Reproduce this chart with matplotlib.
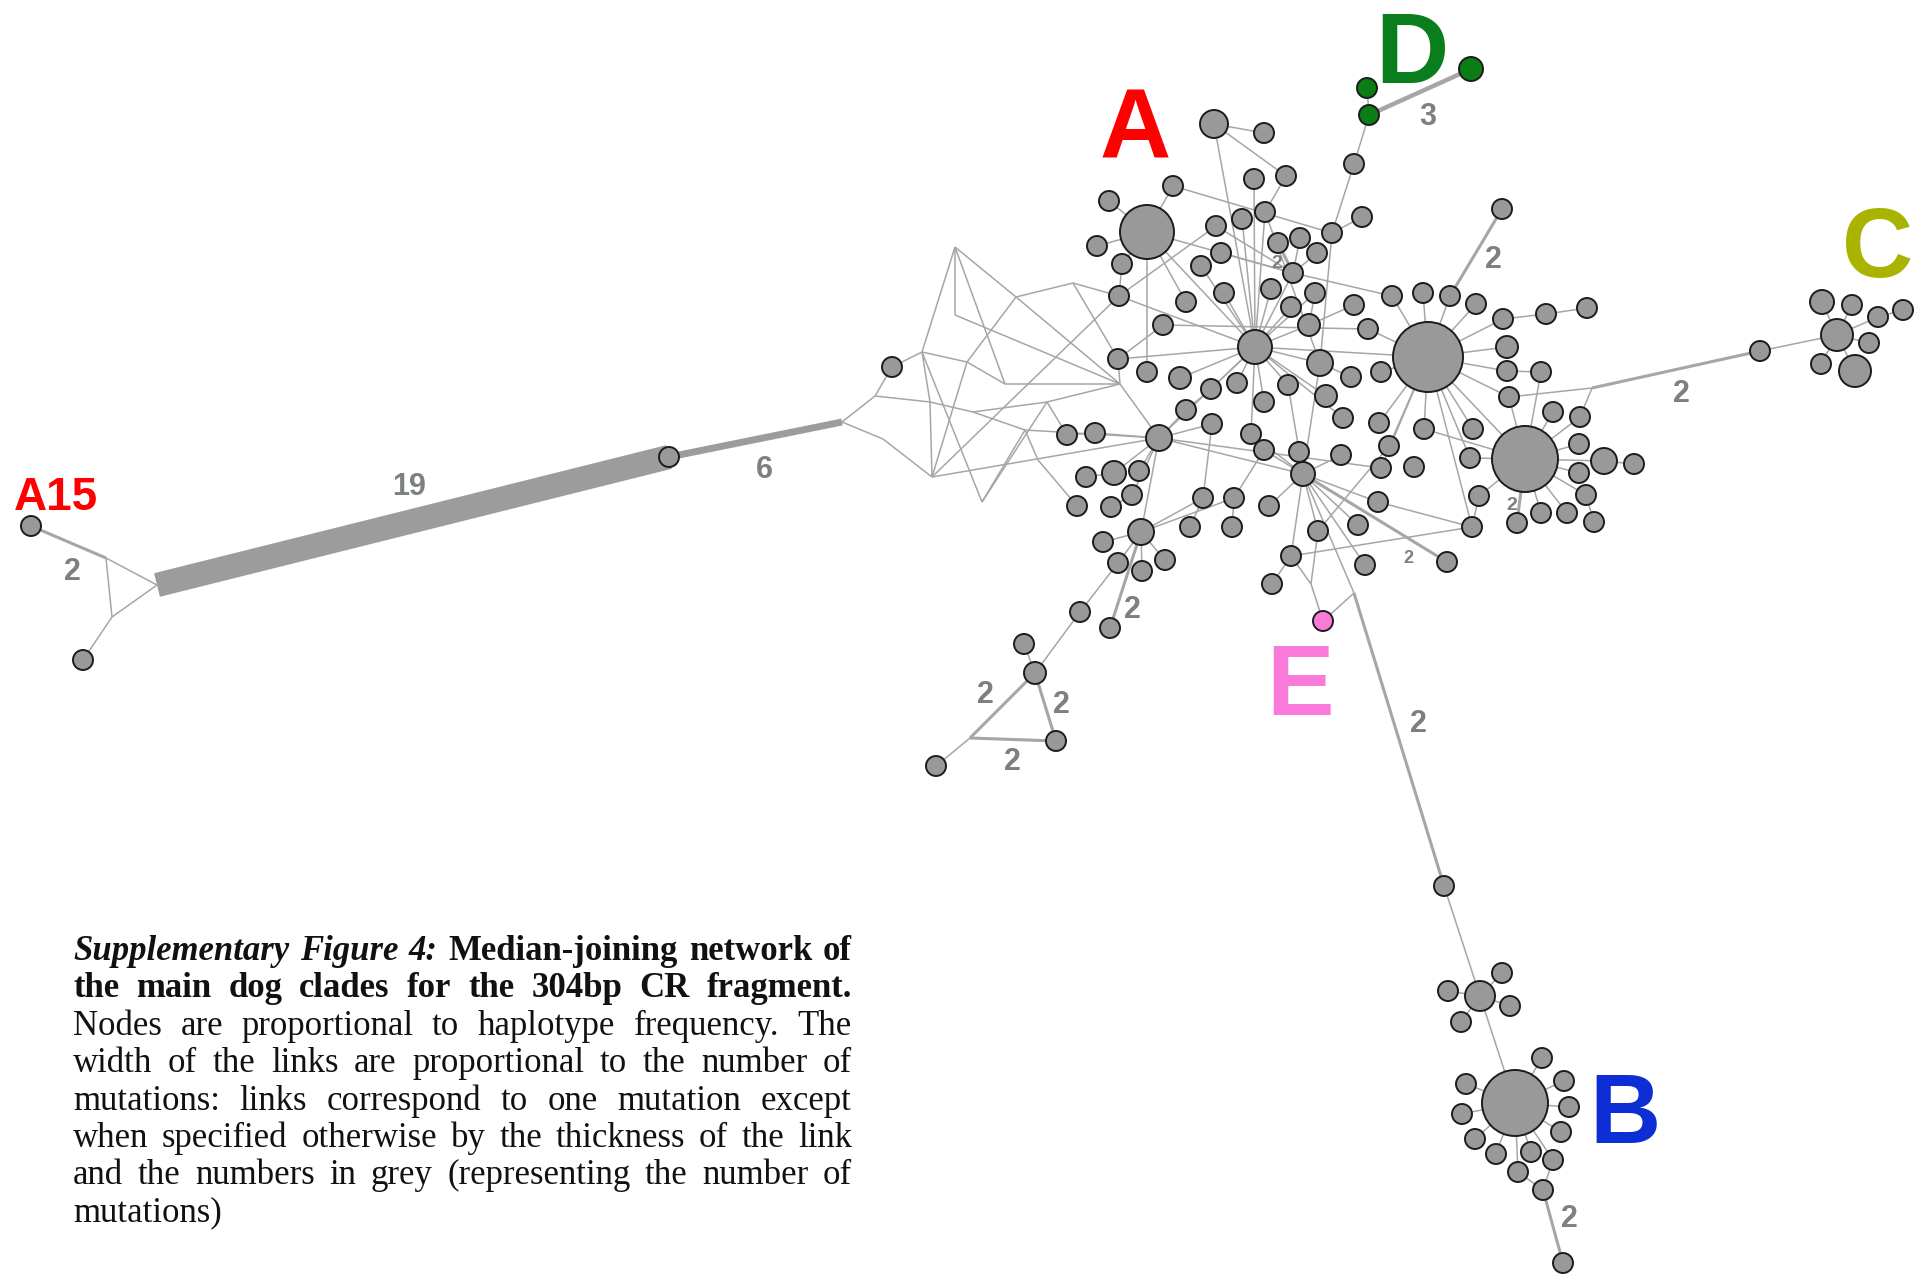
import matplotlib.pyplot as plt
from matplotlib.patches import Circle

# layout is in pixel units of the 1919x1278 image (y grows downwards)
W, H = 1919, 1278

# --- haplotype nodes: (name, x, y, radius); radius 0 = median vertex ---
a15_nodes = [
    ("a15", 31, 526, 10), ("a15b", 83, 660, 10), ("q1", 106, 558, 0),
    ("q2", 112, 617, 0), ("q3", 157, 585, 0), ("q4", 669, 457, 10),
    ("q5", 842, 422, 0),
]
median_nodes = [
    ("m1", 875, 396, 0), ("m2", 883, 439, 0), ("L", 892, 367, 10),
    ("ma", 922, 352, 0), ("mb", 955, 247, 0), ("mc", 967, 362, 0),
    ("md", 930, 402, 0), ("me", 982, 502, 0), ("mf", 955, 315, 0),
    ("mg", 1005, 384, 0), ("mh", 1016, 297, 0), ("mi", 1073, 283, 0),
    ("mj", 1120, 384, 0), ("mk", 973, 412, 0), ("ml", 1025, 430, 0),
    ("mm", 1047, 402, 0), ("mn", 1038, 460, 0), ("mo", 932, 477, 0),
]
clade_a_nodes = [
    ("n1", 1214, 124, 14), ("n2", 1264, 133, 10), ("n3", 1173, 186, 10),
    ("n4", 1109, 201, 10), ("HA", 1147, 232, 27), ("n6", 1097, 246, 10),
    ("n7", 1122, 264, 10), ("n8", 1119, 296, 10), ("n9", 1216, 226, 10),
    ("n10", 1242, 219, 10), ("n11", 1254, 179, 10), ("n12", 1286, 176, 10),
    ("n13", 1265, 212, 10), ("n14", 1221, 253, 10), ("n15", 1201, 266, 10),
    ("n16", 1278, 243, 10), ("n17", 1300, 238, 10), ("n18", 1317, 253, 10),
    ("n19", 1332, 233, 10), ("n20", 1362, 217, 10), ("n21", 1354, 164, 10),
    ("n23", 1293, 273, 10), ("n25", 1315, 293, 10), ("n26", 1392, 296, 10),
    ("n27", 1423, 293, 10), ("n28", 1450, 296, 10), ("n29", 1476, 304, 10),
    ("n30", 1502, 209, 10), ("n31", 1186, 302, 10), ("n32", 1224, 293, 10),
    ("n33", 1271, 289, 10), ("n34", 1291, 307, 10), ("n35", 1309, 325, 11),
    ("n36", 1354, 305, 10), ("n37", 1368, 329, 10), ("n38", 1163, 325, 10),
    ("H1", 1255, 347, 17), ("n40", 1320, 363, 13), ("H2", 1428, 357, 35),
    ("n42", 1118, 359, 10), ("n43", 1147, 372, 10), ("n44", 1180, 378, 11),
    ("n45", 1237, 383, 10), ("n46", 1211, 389, 10), ("n47", 1288, 385, 10),
    ("n48", 1264, 402, 10), ("n49", 1326, 396, 11), ("n50", 1351, 377, 10),
    ("n51", 1381, 372, 10), ("n52", 1186, 410, 10), ("H3", 1159, 438, 13),
    ("n54", 1067, 435, 10), ("n55", 1095, 433, 10), ("n56", 1212, 424, 10),
    ("n57", 1251, 434, 10), ("n58", 1264, 450, 10), ("n59", 1299, 452, 10),
    ("n60", 1343, 418, 10), ("n61", 1379, 423, 10), ("n62", 1424, 429, 10),
    ("n63", 1473, 429, 10), ("n64", 1341, 455, 10), ("n65", 1389, 446, 10),
    ("H4", 1303, 474, 12), ("n67", 1381, 468, 10), ("n68", 1414, 467, 10),
    ("n69", 1470, 458, 10), ("n70", 1479, 496, 10), ("n71", 1378, 502, 10),
    ("n72", 1269, 506, 10), ("n73", 1234, 498, 10), ("n74", 1203, 498, 10),
    ("n75", 1114, 473, 12), ("n76", 1139, 471, 10), ("n77", 1086, 477, 10),
    ("n78", 1132, 495, 10), ("n79", 1077, 506, 10), ("n80", 1111, 507, 10),
    ("n81", 1509, 397, 10), ("n82", 1553, 412, 10), ("n83", 1580, 417, 10),
    ("n84", 1579, 444, 10), ("H5", 1525, 459, 33), ("n86", 1604, 461, 13),
    ("n87", 1634, 464, 10), ("n88", 1579, 473, 10), ("n89", 1586, 495, 10),
    ("n90", 1594, 522, 10), ("n91", 1567, 513, 10), ("n92", 1541, 513, 10),
    ("n93", 1517, 523, 10), ("n94", 1472, 527, 10), ("n116", 1503, 319, 10),
    ("n117", 1546, 314, 10), ("n118", 1587, 308, 10), ("n119", 1507, 347, 11),
    ("n120", 1507, 371, 10), ("n121", 1541, 372, 10), ("vC", 1592, 388, 0),
    ("n95", 1358, 525, 10), ("n96", 1318, 531, 10), ("n97", 1365, 565, 10),
    ("n98", 1447, 562, 10), ("n99", 1291, 556, 10), ("n100", 1272, 584, 10),
    ("vE", 1311, 584, 0), ("n102", 1232, 527, 10), ("n103", 1190, 527, 10),
    ("H6", 1141, 532, 13), ("n105", 1103, 542, 10), ("n106", 1118, 563, 10),
    ("n107", 1142, 571, 10), ("n108", 1165, 560, 10), ("n109", 1080, 612, 10),
    ("n110", 1110, 628, 10), ("n111", 1024, 644, 10), ("n112", 1035, 673, 11),
    ("n113", 1056, 741, 10), ("n114", 936, 766, 10), ("vL", 970, 738, 0),
]
clade_e_nodes = [("pink", 1323, 621, 10), ("vB", 1354, 593, 0)]
clade_b_nodes = [
    ("b0", 1444, 886, 10), ("B1", 1480, 996, 15), ("b2", 1448, 991, 10),
    ("b3", 1502, 973, 10), ("b4", 1510, 1006, 10), ("b5", 1461, 1022, 10),
    ("BH", 1515, 1103, 33), ("b7", 1542, 1058, 10), ("b8", 1564, 1081, 10),
    ("b9", 1569, 1107, 10), ("b10", 1561, 1132, 10), ("b11", 1466, 1084, 10),
    ("b12", 1462, 1114, 10), ("b13", 1475, 1139, 10), ("b14", 1496, 1154, 10),
    ("b15", 1518, 1172, 10), ("b16", 1531, 1152, 10), ("b17", 1553, 1160, 10),
    ("b18", 1543, 1190, 10), ("b19", 1563, 1263, 10),
]
clade_c_nodes = [
    ("c0", 1760, 351, 10), ("CH", 1837, 335, 16), ("c2", 1822, 302, 12),
    ("c3", 1852, 305, 10), ("c4", 1878, 317, 10), ("c5", 1903, 310, 10),
    ("c6", 1869, 343, 10), ("c7", 1821, 364, 10), ("c8", 1855, 371, 16),
]
clade_d_nodes = [("d0", 1367, 88, 10), ("d1", 1369, 115, 10), ("d2", 1471, 69, 12)]

# --- links: "a b" = one mutation; multi-mutation links listed separately ---
single_links = """
q1 q3|q1 q2|q2 q3|q2 a15b|q5 m1|q5 m2|m1 L|m1 md|m2 mo|L ma|ma mb|ma mc|ma md|ma me
mb mf|mb mh|mb mg|mf mj|md mo|md mk|mo mc|mo n8|mo H3|mh mi|mh mc|mh mj|mi n8|mi n42
mc mg|mg mj|mj n42|mj H3|mk ml|mk mm|ml mn|ml H3|mm n54|mm mj|me ml|me mm|mn n79
HA n4|HA n6|HA n7|HA n3|HA n43|HA H1|HA n31|HA n23|n7 n8|n8 n9|n8 H1|n3 n19|n1 n2
n1 n12|n1 H1|n11 H1|n12 n13|n13 H1|n10 H1|n13 n40|n19 n20|n19 n21|n19 n40|n21 d1
n14 n23|n9 n23|n15 H1|n17 n23|n18 n23|n23 H1|n23 n26|n25 n35|n25 H1|n32 H1|n33 H1
n34 H1|n35 H1|n35 n36|n38 n37|n38 n42|n26 H2|n27 H2|n28 H2|n29 H2|H1 n42|H1 n44
H1 n45|H1 n47|H1 n48|H1 n40|H1 H3|H1 H2|H1 n46|H1 n49|H1 n57|n40 n50|n40 H4|n60 H1
H2 n51|H2 n61|H2 n62|H2 n63|H2 n65|H2 n69|H2 n116|H2 n119|H2 n120|H2 n81|H2 H5
H2 n94|H2 n37|H2 n67|H3 n52|H3 n55|H3 n56|H3 n75|H3 n76|H3 n78|H3 H6|H3 H4|H3 n67
n54 n55|n75 n77|n78 n80|n52 n46|H4 n59|H4 n64|H4 n58|H4 n72|H4 n71|H4 n95|H4 n96
H4 n97|H4 n99|H4 vB|H4 n57|H4 n47|H5 n81|H5 n82|H5 n83|H5 n84|H5 n86|H5 n88|H5 n89
H5 n91|H5 n92|H5 n70|H5 n121|H5 n62|H5 n69|n86 n87|n89 n90|n120 n121|n116 n117
n117 n118|n81 vC|vC n83|c0 CH|CH c2|CH c3|CH c4|c4 c5|CH c6|CH c7|CH c8|n94 n70
n94 n99|n94 n71|n96 n65|n99 n100|n99 vE|n96 vE|vE pink|pink vB|n73 n102|n74 n103
n74 n56|n73 n58|H6 n73|H6 n74|H6 n105|H6 n106|H6 n107|H6 n108|n106 n109|n109 n112
n111 n112|vL n114|d1 d0|b0 B1|B1 b2|B1 b3|B1 b4|B1 b5|B1 BH|BH b7|BH b8|BH b9
BH b10|BH b11|BH b12|BH b13|BH b14|BH b15|BH b16|BH b17|b15 b18|b17 b18
"""
multi_links = [
    ("a15", "q1", 2), ("q3", "q4", 19), ("q4", "q5", 6), ("n16", "n23", 2),
    ("n30", "n28", 2), ("H5", "n93", 2), ("vC", "c0", 2), ("H4", "n98", 2),
    ("vB", "b0", 2), ("H6", "n110", 2), ("n112", "vL", 2), ("n112", "n113", 2),
    ("vL", "n113", 2), ("b18", "b19", 2), ("d1", "d2", 3),
]

# --- text ---
clade_labels = ["A", "D", "C", "E", "B"]
clade_label_x = [1135, 1412, 1878, 1300, 1625]
clade_label_y = [157, 83, 277, 715, 1143]
clade_label_pt = [71, 73, 71, 73, 71]
clade_label_colors = ["#ff0000", "#0a7d1c", "#a9b400", "#f97ad8", "#0c2ed4"]

mutation_texts = ["2", "19", "6", "3", "2", "2", "2", "2", "2", "2", "2", "2",
                  "2", "2", "2"]
mutation_x = [72, 409, 764, 1428, 1493, 1681, 1132, 985, 1061, 1012, 1418, 1569,
              1277, 1408, 1512]
mutation_y = [580, 495, 478, 125, 268, 402, 618, 703, 713, 770, 732, 1227,
              268, 563, 510]
mutation_pt = [22, 22, 22, 22, 22, 22, 22, 22, 22, 22, 22, 22, 14, 13, 14]

caption = [
    [("bi", "Supplementary Figure 4:"), ("b", "Median-joining network of")],
    [("b", "the main dog clades for the 304bp CR fragment.")],
    [("n", "Nodes are proportional to haplotype frequency. The")],
    [("n", "width of the links are proportional to the number of")],
    [("n", "mutations: links correspond to one mutation except")],
    [("n", "when specified otherwise by the thickness of the link")],
    [("n", "and the numbers in grey (representing the number of")],
    [("n", "mutations)")],
]

LINK_WIDTH = {1: 1.1, 2: 2.2, 3: 3.2, 6: 5.0, 19: 17.5}


def main() -> None:
    fig = plt.figure(figsize=(W / 100, H / 100), dpi=100)
    ax = fig.add_axes([0, 0, 1, 1])
    ax.set_xlim(0, W)
    ax.set_ylim(H, 0)
    ax.axis("off")

    pos, rad, col = {}, {}, {}
    groups = [(a15_nodes, "#999999"), (median_nodes, "#999999"),
              (clade_a_nodes, "#999999"), (clade_e_nodes, "#f97ad8"),
              (clade_b_nodes, "#999999"), (clade_c_nodes, "#999999"),
              (clade_d_nodes, "#0a7d14")]
    for nodes, colour in groups:
        for name, x, y, r in nodes:
            pos[name] = (x, y)
            rad[name] = r
            col[name] = colour

    links = []
    for chunk in single_links.replace("\n", "|").split("|"):
        chunk = chunk.strip()
        if chunk:
            a, b = chunk.split()
            links.append((a, b, 1))
    links += multi_links

    for a, b, m in links:
        (xa, ya), (xb, yb) = pos[a], pos[b]
        ax.plot([xa, xb], [ya, yb], color="#9c9c9c" if m > 3 else "#a6a6a6",
                lw=LINK_WIDTH[m], solid_capstyle="butt", zorder=1)

    for name, (x, y) in pos.items():
        if rad[name] > 0:
            ax.add_patch(Circle((x, y), rad[name], facecolor=col[name],
                                edgecolor="#1c1c1c", lw=1.4, zorder=3))

    for t, x, y, s, c in zip(clade_labels, clade_label_x, clade_label_y,
                             clade_label_pt, clade_label_colors):
        ax.text(x, y, t, fontsize=s, color=c, fontweight="bold",
                family="Liberation Sans", ha="center", va="baseline", zorder=4)
    ax.text(14, 510, "A15", fontsize=33, color="#ff0000", fontweight="bold",
            family="Liberation Sans", ha="left", va="baseline", zorder=4)

    for t, x, y, s in zip(mutation_texts, mutation_x, mutation_y, mutation_pt):
        ax.text(x, y, t, fontsize=s, color="#7d8081", fontweight="bold",
                family="Liberation Sans", ha="center", va="baseline", zorder=4)

    # justified caption block
    renderer = fig.canvas.get_renderer()
    x0, x1 = 73, 852
    base, step = 960, 37.4
    for i, runs in enumerate(caption):
        y = base + i * step
        words = [(w, st) for st, txt in runs for w in txt.split()]
        fs = 25.0
        while True:
            arts = [ax.text(0, y, w, fontsize=fs, family="Liberation Serif",
                            fontweight="bold" if "b" in st else "normal",
                            fontstyle="italic" if "i" in st else "normal",
                            color="#111111", ha="left", va="baseline")
                    for w, st in words]
            widths = [a.get_window_extent(renderer).width for a in arts]
            min_gap = fs * 0.22 * 100 / 72
            if sum(widths) + min_gap * (len(arts) - 1) <= x1 - x0 or fs < 18:
                break
            for a in arts:
                a.remove()
            fs -= 0.5
        if i == len(caption) - 1:
            gap = fs * 0.25 * 100 / 72
        else:
            gap = (x1 - x0 - sum(widths)) / (len(arts) - 1)
        x = x0
        for a, wd in zip(arts, widths):
            a.set_x(x)
            x += wd + gap

    fig.savefig("out.png", dpi=100, facecolor="white")


if __name__ == "__main__":
    main()
